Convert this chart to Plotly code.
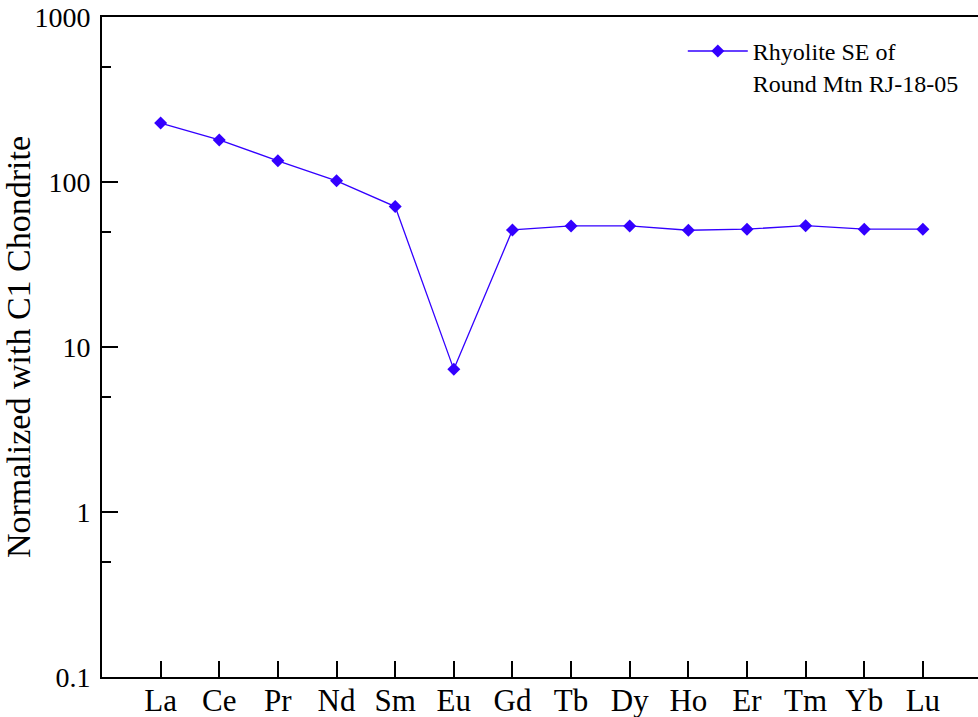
import plotly.graph_objects as go

# Rare earth elements (chondrite-normalized pattern)
elements = ["La", "Ce", "Pr", "Nd", "Sm", "Eu", "Gd", "Tb", "Dy", "Ho", "Er", "Tm", "Yb", "Lu"]
positions = list(range(1, len(elements) + 1))
normalized = [227.5, 180.0, 134.4, 101.6, 71.0, 7.32, 51.2, 54.2, 54.2, 51.0, 51.8, 54.4, 51.8, 51.8]
sample_name = "Rhyolite SE of<br>Round Mtn RJ-18-05"

y_major = [0.1, 1, 10, 100, 1000]
y_major_text = ["0.1", "1", "10", "100", "1000"]
y_minor = [0.5, 5, 50, 500]

LINE_COLOR = "#3300ff"
FONT = "Liberation Serif"

fig = go.Figure()
fig.add_trace(go.Scatter(
    x=positions,
    y=normalized,
    mode="lines+markers",
    name=sample_name,
    line=dict(color=LINE_COLOR, width=1.3),
    marker=dict(symbol="diamond", size=10, color=LINE_COLOR),
))

fig.update_layout(
    width=978,
    height=717,
    margin=dict(l=102, r=0, t=17, b=40, autoexpand=False),
    paper_bgcolor="white",
    plot_bgcolor="white",
    font=dict(family=FONT, color="black"),
    showlegend=True,
    legend=dict(
        x=0.663, y=0.982, xanchor="left", yanchor="top",
        font=dict(family=FONT, size=24, color="black"),
        bgcolor="rgba(0,0,0,0)",
        borderwidth=0,
        itemwidth=60,
        valign="top",
    ),
)

fig.update_xaxes(
    range=[0, 14.94],
    automargin=False,
    tickmode="array",
    tickvals=positions,
    ticktext=elements,
    ticks="inside",
    ticklen=16,
    tickwidth=2,
    tickcolor="black",
    ticklabelstandoff=-5,
    showline=True,
    linewidth=2,
    linecolor="black",
    mirror=True,
    showgrid=False,
    zeroline=False,
    tickfont=dict(family=FONT, size=31, color="black"),
)

fig.update_yaxes(
    type="log",
    range=[-1, 3],
    automargin=False,
    tickmode="array",
    tickvals=y_major,
    ticktext=y_major_text,
    ticks="inside",
    ticklen=16,
    tickwidth=2,
    tickcolor="black",
    ticklabelstandoff=4,
    minor=dict(tickvals=y_minor, ticks="inside", ticklen=9, tickwidth=2, tickcolor="black", showgrid=False),
    showline=True,
    linewidth=2,
    linecolor="black",
    showgrid=False,
    zeroline=False,
    tickfont=dict(family=FONT, size=28, color="black"),
    title=dict(text="Normalized with C1 Chondrite", font=dict(family=FONT, size=34, color="black"), standoff=2),
)

fig.write_html("out.html")
